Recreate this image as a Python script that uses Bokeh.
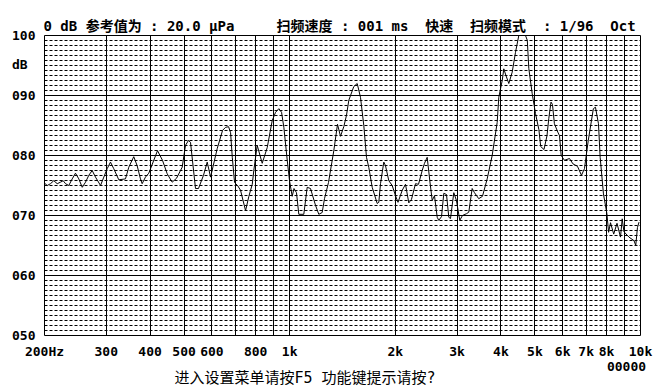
from bokeh.plotting import figure
from bokeh.models import Range1d, FixedTicker, Title, LogAxis
from bokeh.embed import file_html
from bokeh.resources import INLINE

# ---- data ----
freq_hz = [200, 203.6, 208, 212.6, 217.4, 222.1, 226.1, 229.6, 234.6, 239.9,
           245.1, 250.5, 256.2, 261.8, 267.5, 273.5, 279.5, 288.9, 295.2, 301.8,
           308.4, 315.1, 325.7, 340.3, 347.8, 359.3, 367.4, 375.5, 379.7, 388,
           396.6, 419.9, 433.9, 447.5, 462.4, 475.7, 493.8, 504.6, 514.6, 521.5,
           538.9, 549.6, 567.9, 581.9, 594.9, 621.7, 643.7, 656.5, 669.5, 678.4,
           686, 696.3, 710.2, 724.3, 748.5, 764.9, 782.1, 790.1, 807.9, 834.9,
           862.7, 891.5, 911.3, 931.2, 947.9, 962.3, 984, 998.7, 1016.5, 1028.6,
           1045.6, 1061.6, 1097, 1121.7, 1146.3, 1184.6, 1210.5, 1237.8, 1256.6, 1290,
           1335.7, 1368.6, 1395.8, 1426.4, 1451.8, 1473.9, 1523.1, 1557.5, 1591.5, 1626.4,
           1655.5, 1680.7, 1718.7, 1776, 1794.8, 1814.9, 1854.7, 1875.4, 1916.5, 1959.7,
           2002.6, 2035.8, 2092.7, 2138.5, 2185.3, 2224.4, 2283.6, 2329, 2386.2, 2422.6,
           2465.8, 2508.4, 2548.2, 2586.8, 2633.2, 2660.8, 2708.6, 2749.8, 2799, 2841.6,
           2873.4, 2936.2, 2988, 3053.7, 3108.3, 3190.9, 3239.4, 3312.6, 3363, 3459,
           3544.2, 3655.5, 3777.3, 3903.3, 3945.2, 4034.3, 4076.9, 4136.2, 4212.9, 4308,
           4402.3, 4498.8, 4549.2, 4701.2, 4756.8, 4804, 4912.4, 5019.7, 5133, 5194,
           5307.8, 5413.3, 5477.7, 5557.5, 5612, 5683, 5811, 5876.5, 5941.2, 6071.3,
           6273.9, 6419.7, 6612.1, 6787.8, 6922.3, 7097.2, 7338.8, 7441, 7588.7, 7673.8,
           7842.1, 8021, 8111, 8212.8, 8387.2, 8570.8, 8770, 8868.8, 8970.6, 9270,
           9585, 9693, 9802, 9905]
level_db = [75.4, 75.0, 75.3, 75.8, 75.3, 75.55, 75.8, 75.3, 75.0, 76.1,
            77.05, 76.1, 74.7, 75.55, 76.7, 77.5, 76.4, 75.0, 76.4, 77.8,
            78.9, 77.8, 75.95, 76.1, 78.05, 79.8, 78.3, 76.1, 75.3, 76.4,
            77.05, 80.8, 79.2, 76.95, 75.55, 76.2, 78.05, 81.7, 82.5, 82.2,
            74.5, 74.5, 76.7, 78.9, 76.4, 81.2, 84.2, 84.7, 84.8, 83.8,
            79.7, 75.5, 75.0, 74.2, 70.8, 73.2, 75.2, 77.5, 81.7, 78.7,
            81.3, 85.8, 87.2, 87.8, 87.2, 84.7, 79.2, 75.8, 73.2, 74.5,
            73.8, 70.2, 70.2, 74.7, 74.5, 71.7, 70.2, 70.5, 72.8, 75.5,
            80.8, 85.2, 83.2, 84.8, 86.7, 89.2, 91.5, 92.0, 89.7, 85.0,
            79.7, 78.0, 74.7, 72.0, 72.2, 75.3, 78.9, 78.3, 75.8, 75.0,
            73.3, 72.2, 74.2, 75.2, 72.1, 72.7, 75.3, 75.2, 77.5, 78.7,
            79.7, 75.8, 72.5, 73.3, 69.7, 69.2, 69.8, 73.7, 73.5, 69.7,
            69.5, 73.8, 72.5, 69.2, 70.0, 70.3, 70.55, 74.5, 73.8, 72.8,
            73.2, 76.1, 80.0, 85.5, 89.7, 92.5, 94.45, 93.3, 92.0, 93.9,
            97.2, 100, 100, 100, 99.2, 94.5, 90.3, 87.0, 84.3, 81.5,
            81.0, 83.3, 86.2, 88.9, 88.5, 85.3, 83.9, 83.3, 80.0, 79.2,
            79.5, 78.6, 78.2, 76.7, 77.8, 82.5, 87.8, 88.05, 85.3, 79.7,
            73.6, 70.3, 67.2, 68.8, 66.9, 68.7, 66.4, 69.45, 67.3, 66.4,
            65.8, 65.0, 68.0, 68.9]

x_tick_values = [200, 300, 400, 500, 600, 800, 1000, 2000, 3000, 4000, 5000, 6000, 7000, 8000, 10000]
x_tick_labels = ["200Hz", "300", "400", "500", "600", "800", "1k", "2k", "3k", "4k", "5k", "6k", "7k", "8k", "10k"]
x_grid_values = [300, 400, 500, 600, 700, 800, 900, 1000, 2000, 3000, 4000, 5000, 6000, 7000, 8000, 9000]
y_tick_values = [50, 60, 70, 80, 90, 95.2, 100]
y_tick_labels = ["050", "060", "070", "080", "090", "dB\u00a0", "100"]
y_major_grid = [60, 70, 80, 90]
y_minor_step_db = 10 / 12

NB = "\u00a0"
header_text = ("0 dB 参考值为" + NB + ": 20.0 μPa" + NB * 5 + "扫频速度" + NB +
               ": 001 ms" + NB * 2 + "快速" + NB * 2 + "扫频模式" + NB * 2 + ": 1/96" + NB * 2 + "Oct")
footer_code = "00000"
footer_code_at_hz = 9124
footer_hint = "进入设置菜单请按F5  功能键提示请按?"
footer_hint_at_hz = 1139

MONO = "DejaVu Sans Mono"
MIXED = "DejaVu Sans Mono, Noto Sans CJK SC"

p = figure(width=666, height=391, x_axis_type="log",
           x_range=Range1d(200, 10000), y_range=Range1d(50, 100),
           output_backend="svg", toolbar_location=None, title=None,
           min_border_left=44, min_border_right=26, min_border_top=35, min_border_bottom=56)
p.background_fill_color = "white"
p.border_fill_color = "white"
p.outline_line_color = "black"
p.outline_line_width = 1
p.outline_line_alpha = 1

# header
p.add_layout(Title(text=header_text, align="left", offset=-1, standoff=3,
                   text_font=MIXED, text_font_style="bold", text_font_size="14px",
                   text_color="black"), "above")

def plain_axis(ax):
    ax.axis_line_color = None
    ax.major_tick_line_color = None
    ax.minor_tick_line_color = None
    ax.major_tick_out = 0
    ax.major_tick_in = 0
    ax.minor_tick_out = 0
    ax.minor_tick_in = 0
    ax.major_label_text_color = "black"

# x axis
p.xaxis.ticker = FixedTicker(ticks=x_tick_values)
p.xaxis.major_label_overrides = {v: l for v, l in zip(x_tick_values, x_tick_labels)}
plain_axis(p.xaxis[0])
p.xaxis.major_label_standoff = 8
p.xaxis.major_label_text_font = MONO
p.xaxis.major_label_text_font_style = "bold"
p.xaxis.major_label_text_font_size = "13px"

# y axis
p.yaxis.ticker = FixedTicker(ticks=y_tick_values)
p.yaxis.major_label_overrides = {v: l for v, l in zip(y_tick_values, y_tick_labels)}
plain_axis(p.yaxis[0])
p.yaxis.major_label_standoff = 9
p.yaxis.major_label_text_font = MONO
p.yaxis.major_label_text_font_style = "bold"
p.yaxis.major_label_text_font_size = "13px"

# footer lines as extra (label-only) axes below
code_axis = LogAxis(ticker=FixedTicker(ticks=[footer_code_at_hz]),
                    major_label_overrides={footer_code_at_hz: footer_code})
plain_axis(code_axis)
code_axis.major_label_standoff = 0
code_axis.major_label_text_font = MONO
code_axis.major_label_text_font_style = "bold"
code_axis.major_label_text_font_size = "13px"
p.add_layout(code_axis, "below")

hint_axis = LogAxis(ticker=FixedTicker(ticks=[footer_hint_at_hz]),
                    major_label_overrides={footer_hint_at_hz: footer_hint})
plain_axis(hint_axis)
hint_axis.major_label_standoff = -5
hint_axis.major_label_text_font = MIXED
hint_axis.major_label_text_font_size = "15px"
p.add_layout(hint_axis, "below")

# grids
p.xgrid.ticker = FixedTicker(ticks=x_grid_values)
p.xgrid.grid_line_color = "black"
p.xgrid.grid_line_alpha = 1
p.xgrid.grid_line_width = 1

minor = [50 + i * y_minor_step_db for i in range(61) if i % 12 != 0]
p.ygrid.ticker = FixedTicker(ticks=y_major_grid, minor_ticks=minor)
p.ygrid.grid_line_color = "black"
p.ygrid.grid_line_alpha = 1
p.ygrid.grid_line_width = 1
p.ygrid.minor_grid_line_color = "black"
p.ygrid.minor_grid_line_alpha = 1
p.ygrid.minor_grid_line_dash = "3 2"

# spectrum curve
p.line(freq_hz, level_db, line_color="black", line_width=1)

open("out.html", "w").write(file_html(p, INLINE))
